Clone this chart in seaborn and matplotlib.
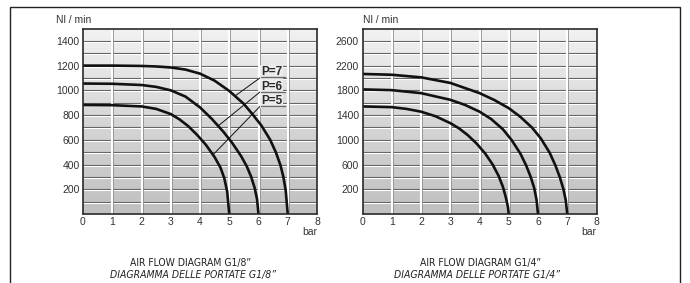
import numpy as np
import pandas as pd
import matplotlib
matplotlib.use("Agg")
import matplotlib.pyplot as plt
import matplotlib.transforms as mtransforms
from matplotlib import font_manager as fm
from matplotlib.colors import LinearSegmentedColormap
from matplotlib.patches import Rectangle
import seaborn as sns

# step 1: data (x = bar, y = Nl/min)

labels = ["P=7", "P=6", "P=5"]

# G1/8" diagram
g18_p7_x = [0, 1, 2, 2.5, 3, 3.5, 4, 4.5, 5, 5.5, 5.8, 6.1, 6.4, 6.6, 6.75, 6.85, 6.93, 7.0]
g18_p7_y = [1200, 1200, 1197, 1193, 1185, 1168, 1135, 1078, 995, 890, 805, 715, 600, 495, 395, 300, 190, 0]
g18_p6_x = [0, 1, 2, 2.5, 3, 3.5, 4, 4.4, 4.8, 5.1, 5.4, 5.6, 5.75, 5.87, 5.95, 6.0]
g18_p6_y = [1055, 1053, 1043, 1028, 1000, 950, 862, 770, 665, 575, 470, 385, 300, 210, 120, 0]
g18_p5_x = [0, 1, 2, 2.5, 3, 3.3, 3.6, 3.9, 4.2, 4.5, 4.7, 4.83, 4.93, 5.0]
g18_p5_y = [882, 880, 870, 850, 808, 765, 710, 640, 560, 460, 375, 290, 180, 0]
g18_yticks = [200, 400, 600, 800, 1000, 1200, 1400]

# G1/4" diagram (the printed labels sit one grid row above their value)
g14_p7_x = [0, 1, 2, 3, 4, 4.5, 5, 5.4, 5.8, 6.1, 6.4, 6.6, 6.75, 6.87, 6.95, 7.0]
g14_p7_y = [2265, 2252, 2210, 2120, 1955, 1845, 1712, 1570, 1395, 1220, 990, 780, 590, 400, 220, 0]
g14_p6_x = [0, 1, 2, 3, 3.5, 4, 4.4, 4.8, 5.1, 5.4, 5.6, 5.75, 5.87, 5.95, 6.0]
g14_p6_y = [2015, 2003, 1955, 1847, 1765, 1655, 1535, 1370, 1195, 975, 780, 600, 420, 230, 0]
g14_p5_x = [0, 1, 1.5, 2, 2.5, 3, 3.3, 3.6, 3.9, 4.2, 4.45, 4.65, 4.8, 4.9, 4.97, 5.0]
g14_p5_y = [1740, 1728, 1700, 1655, 1580, 1470, 1385, 1275, 1140, 975, 800, 620, 440, 270, 120, 0]
g14_ytick_pos = [400, 800, 1200, 1600, 2000, 2400, 2800]
g14_ytick_labels = ["200", "600", "1000", "1400", "1800", "2200", "2600"]

xticks = [0, 1, 2, 3, 4, 5, 6, 7, 8]

# leader lines from the P= labels to the curves (G1/8" only)
lead_start = [(6.07, 1104), (6.07, 990), (6.07, 875)]
lead_end = [(5.2, 955), (4.62, 712), (4.45, 480)]
label_pos = [(6.45, 1148), (6.45, 1030), (6.45, 912)]

# step 2: plotting

sns.set_style("white")
plt.rcParams["font.family"] = ["Liberation Sans", "DejaVu Sans"]

# condensed font for the captions, if there is one
try:
    fm.findfont(fm.FontProperties(family="Liberation Sans Narrow"), fallback_to_default=False)
    cap_font = dict(family="Liberation Sans Narrow", fontsize=9)
except ValueError:
    cap_font = dict(family="DejaVu Sans", stretch="condensed", fontsize=7.5)

W, H = 690, 283
fig = plt.figure(figsize=(W / 100, H / 100), dpi=100)

ax1 = fig.add_axes([83 / W, 1 - 214 / H, 234 / W, 185.5 / H])
ax2 = fig.add_axes([362.5 / W, 1 - 214 / H, 234 / W, 185.5 / H])

bg = LinearSegmentedColormap.from_list("bg", ["#c0c0c0", "#d6d6d6", "#f2f2f2"])


def style_axes(ax, ymax, ystep):
    ax.set_xlim(0, 8)
    ax.set_ylim(0, ymax)
    grad = np.linspace(0, 1, 256)[:, None]
    ax.imshow(grad, extent=[0, 8, 0, ymax], origin="lower", aspect="auto",
              cmap=bg, zorder=0)
    down = mtransforms.ScaledTranslation(0, -1 / 100, fig.dpi_scale_trans)
    right = mtransforms.ScaledTranslation(1 / 100, 0, fig.dpi_scale_trans)
    # horizontal tile lines: dark line with a white line under it
    for y in np.arange(ystep, ymax, ystep):
        ax.plot([0, 1], [y, y], transform=ax.get_yaxis_transform(),
                color="#5e5e5e", lw=0.8, zorder=1)
        ax.plot([0, 1], [y, y], transform=ax.get_yaxis_transform() + down,
                color="white", lw=0.8, zorder=1)
    # vertical tile lines: white with a grey shadow
    for x in range(1, 8):
        ax.plot([x, x], [0, 1], transform=ax.get_xaxis_transform() + right,
                color="#8a8a8a", lw=0.6, zorder=1)
        ax.plot([x, x], [0, 1], transform=ax.get_xaxis_transform(),
                color="white", lw=1.5, zorder=1)
    for s in ax.spines.values():
        s.set_visible(True)
        s.set_color("#2a2a2a")
        s.set_linewidth(1.2)
        s.set_zorder(5)
    ax.set_xticks(xticks)
    ax.tick_params(length=0, labelsize=7.5, colors="#333333", pad=2.5)
    ax.set_xlabel("")
    ax.set_ylabel("")
    ax.text(1.0, -0.097, "bar", transform=ax.transAxes, ha="right", va="center",
            fontsize=7.5, color="#333333")


style_axes(ax1, 1500, 100)
style_axes(ax2, 3000, 200)

for xs, ys in [(g18_p7_x, g18_p7_y), (g18_p6_x, g18_p6_y), (g18_p5_x, g18_p5_y)]:
    sns.lineplot(x=xs, y=ys, ax=ax1, color="#111111", lw=1.9, estimator=None, zorder=3)
for xs, ys in [(g14_p7_x, g14_p7_y), (g14_p6_x, g14_p6_y), (g14_p5_x, g14_p5_y)]:
    sns.lineplot(x=xs, y=ys, ax=ax2, color="#111111", lw=1.9, estimator=None, zorder=3)

ax1.set_yticks(g18_yticks)
ax2.set_yticks(g14_ytick_pos, g14_ytick_labels)

# labels P=7 / P=6 / P=5 with leader lines
for lab, (sx, sy), (ex, ey), (lx, ly) in zip(labels, lead_start, lead_end, label_pos):
    ax1.plot([sx, ex], [sy, ey], color="#111111", lw=0.7, zorder=3)
    ax1.text(lx, ly, lab, ha="center", va="center", fontsize=8.5, fontweight="bold",
             color="#2a2a2a", zorder=4,
             bbox=dict(boxstyle="square,pad=0.1", fc="#ececec", ec="none"))
    ax1.plot([sx, 6.9], [sy, sy], color="#6a6a6a", lw=1.0, zorder=4)

for ax in (ax1, ax2):
    ax.text(-0.115 if ax is ax1 else 0.003, 1.046, "Nl / min", transform=ax.transAxes,
            ha="left", va="center", fontsize=7.5, color="#333333")

fig.text(191 / W, 1 - 263 / H, "AIR FLOW DIAGRAM G1/8\u201d", ha="center", va="center",
         color="#222222", **cap_font)
fig.text(193 / W, 1 - 275 / H, "DIAGRAMMA DELLE PORTATE G1/8\u201d", ha="center",
         va="center", style="italic", color="#222222", **cap_font)
fig.text(481 / W, 1 - 263 / H, "AIR FLOW DIAGRAM G1/4\u201d", ha="center", va="center",
         color="#222222", **cap_font)
fig.text(477 / W, 1 - 275 / H, "DIAGRAMMA DELLE PORTATE G1/4\u201d", ha="center",
         va="center", style="italic", color="#222222", **cap_font)

# outer frame (open at the bottom)
fig.add_artist(Rectangle((10 / W, -0.05), 670 / W, 1.05 - 7 / H,
                         transform=fig.transFigure, fill=False, ec="#222222", lw=1.0))

fig.savefig("out.png", dpi=100)
